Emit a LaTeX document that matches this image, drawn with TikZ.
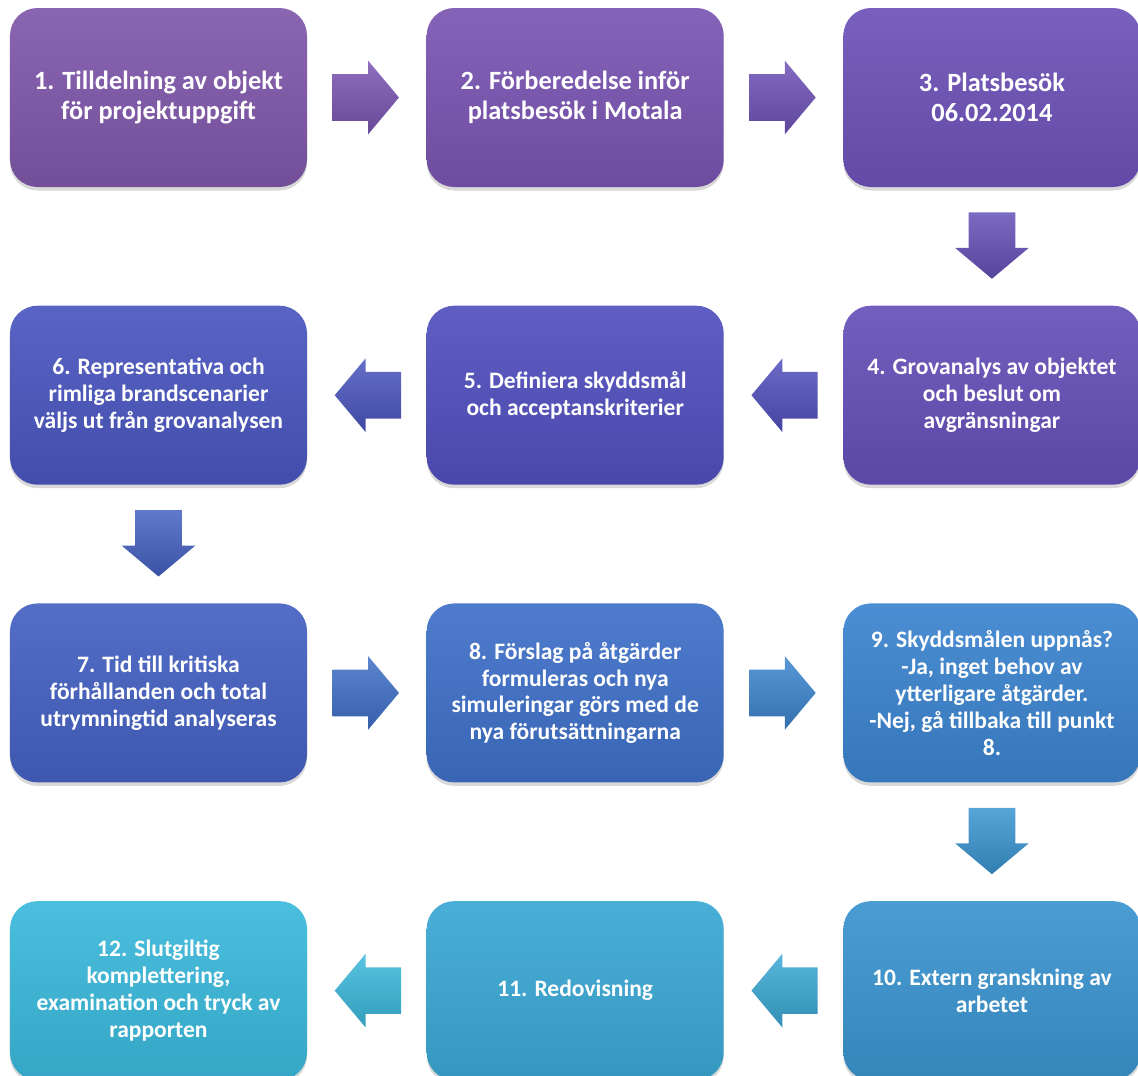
\documentclass[tikz,border=0pt]{standalone}
\usepackage{fontspec}
\setmainfont{Carlito}
\usetikzlibrary{calc,positioning,shapes.arrows,shadows}
\definecolor{f1}{HTML}{8058AB}
\definecolor{f2}{HTML}{7A55B2}
\definecolor{f3}{HTML}{6E52B8}
\definecolor{f4}{HTML}{6550B8}
\definecolor{f5}{HTML}{5250BE}
\definecolor{f6}{HTML}{4A56BF}
\definecolor{f7}{HTML}{4561C2}
\definecolor{f8}{HTML}{3F70C8}
\definecolor{f9}{HTML}{3C84CF}
\definecolor{f10}{HTML}{3A94CF}
\definecolor{f11}{HTML}{3AA8D4}
\definecolor{f12}{HTML}{3BB9DB}
\tikzset{
  steg/.style={
    rectangle,
    rounded corners=0.55cm,
    top color=#1!92!white,
    bottom color=#1!90!black,
    draw=none,
    drop shadow={shadow xshift=0pt, shadow yshift=-2pt, opacity=0.3},
    text=white,
    align=center,
    minimum width=5.94cm,
    minimum height=3.58cm,
    font=\bfseries\fontsize{13.4}{15.3}\selectfont},
  stor/.style={font=\bfseries\fontsize{15}{16.8}\selectfont},
  pil/.style={
    single arrow,
    draw=none,
    top color=#1!85!white,
    bottom color=#1!85!black,
    minimum height=1.28cm,
    minimum width=1.46cm,
    single arrow head extend=0.27cm,
    single arrow tip angle=100,
    inner sep=0.46cm,
    anchor=tail},
}
\begin{document}
\begin{tikzpicture}
\useasboundingbox (0,0) rectangle (22.76,-21.5);

    % rad 1
    \node [steg=f1, stor] (tilldelning) at (3.17,-1.95) {1. Tilldelning av objekt\\för projektuppgift};
    \node [steg=f2, stor, right=2.38cm of tilldelning] (forberedelse) {2. Förberedelse inför\\platsbesök i Motala};
    \node [steg=f3, stor, right=2.38cm of forberedelse] (platsbesok) {3. Platsbesök\\06.02.2014};
    % rad 2
    \node [steg=f4, below=2.36cm of platsbesok] (grovanalys) {4. Grovanalys av objektet\\och beslut om\\avgränsningar};
    \node [steg=f5, left=2.38cm of grovanalys] (skyddsmal) {5. Definiera skyddsmål\\och acceptanskriterier};
    \node [steg=f6, left=2.38cm of skyddsmal] (scenarier) {6. Representativa och\\rimliga brandscenarier\\väljs ut från grovanalysen};
    % rad 3
    \node [steg=f7, below=2.36cm of scenarier] (tid) {7. Tid till kritiska\\förhållanden och total\\utrymningtid analyseras};
    \node [steg=f8, right=2.38cm of tid] (forslag) {8. Förslag på åtgärder\\formuleras och nya\\simuleringar görs med de\\nya förutsättningarna};
    \node [steg=f9, right=2.38cm of forslag] (uppnas) {9. Skyddsmålen uppnås?\\-Ja, inget behov av\\ytterligare åtgärder.\\-Nej, gå tillbaka till punkt\\8.};
    % rad 4
    \node [steg=f10, below=2.36cm of uppnas] (granskning) {10. Extern granskning av\\arbetet};
    \node [steg=f11, left=2.38cm of granskning] (redovisning) {11. Redovisning};
    \node [steg=f12, left=2.38cm of redovisning] (slutgiltig) {12. Slutgiltig\\komplettering,\\examination och tryck av\\rapporten};

    % pilar
    \node [pil=f2] (p12) at ($(tilldelning.east)!0.21!(forberedelse.west)$) {};
    \node [pil=f3] (p23) at ($(forberedelse.east)!0.21!(platsbesok.west)$) {};
    \node [pil=f4, shape border rotate=270] (p34) at ($(platsbesok.south)!0.21!(grovanalys.north)$) {};
    \node [pil=f5, shape border rotate=180] (p45) at ($(grovanalys.west)!0.21!(skyddsmal.east)$) {};
    \node [pil=f6, shape border rotate=180] (p56) at ($(skyddsmal.west)!0.21!(scenarier.east)$) {};
    \node [pil=f7, shape border rotate=270] (p67) at ($(scenarier.south)!0.21!(tid.north)$) {};
    \node [pil=f8] (p78) at ($(tid.east)!0.21!(forslag.west)$) {};
    \node [pil=f9] (p89) at ($(forslag.east)!0.21!(uppnas.west)$) {};
    \node [pil=f10, shape border rotate=270] (p910) at ($(uppnas.south)!0.21!(granskning.north)$) {};
    \node [pil=f11, shape border rotate=180] (p1011) at ($(granskning.west)!0.21!(redovisning.east)$) {};
    \node [pil=f12, shape border rotate=180] (p1112) at ($(redovisning.west)!0.21!(slutgiltig.east)$) {};

\end{tikzpicture}
\end{document}
